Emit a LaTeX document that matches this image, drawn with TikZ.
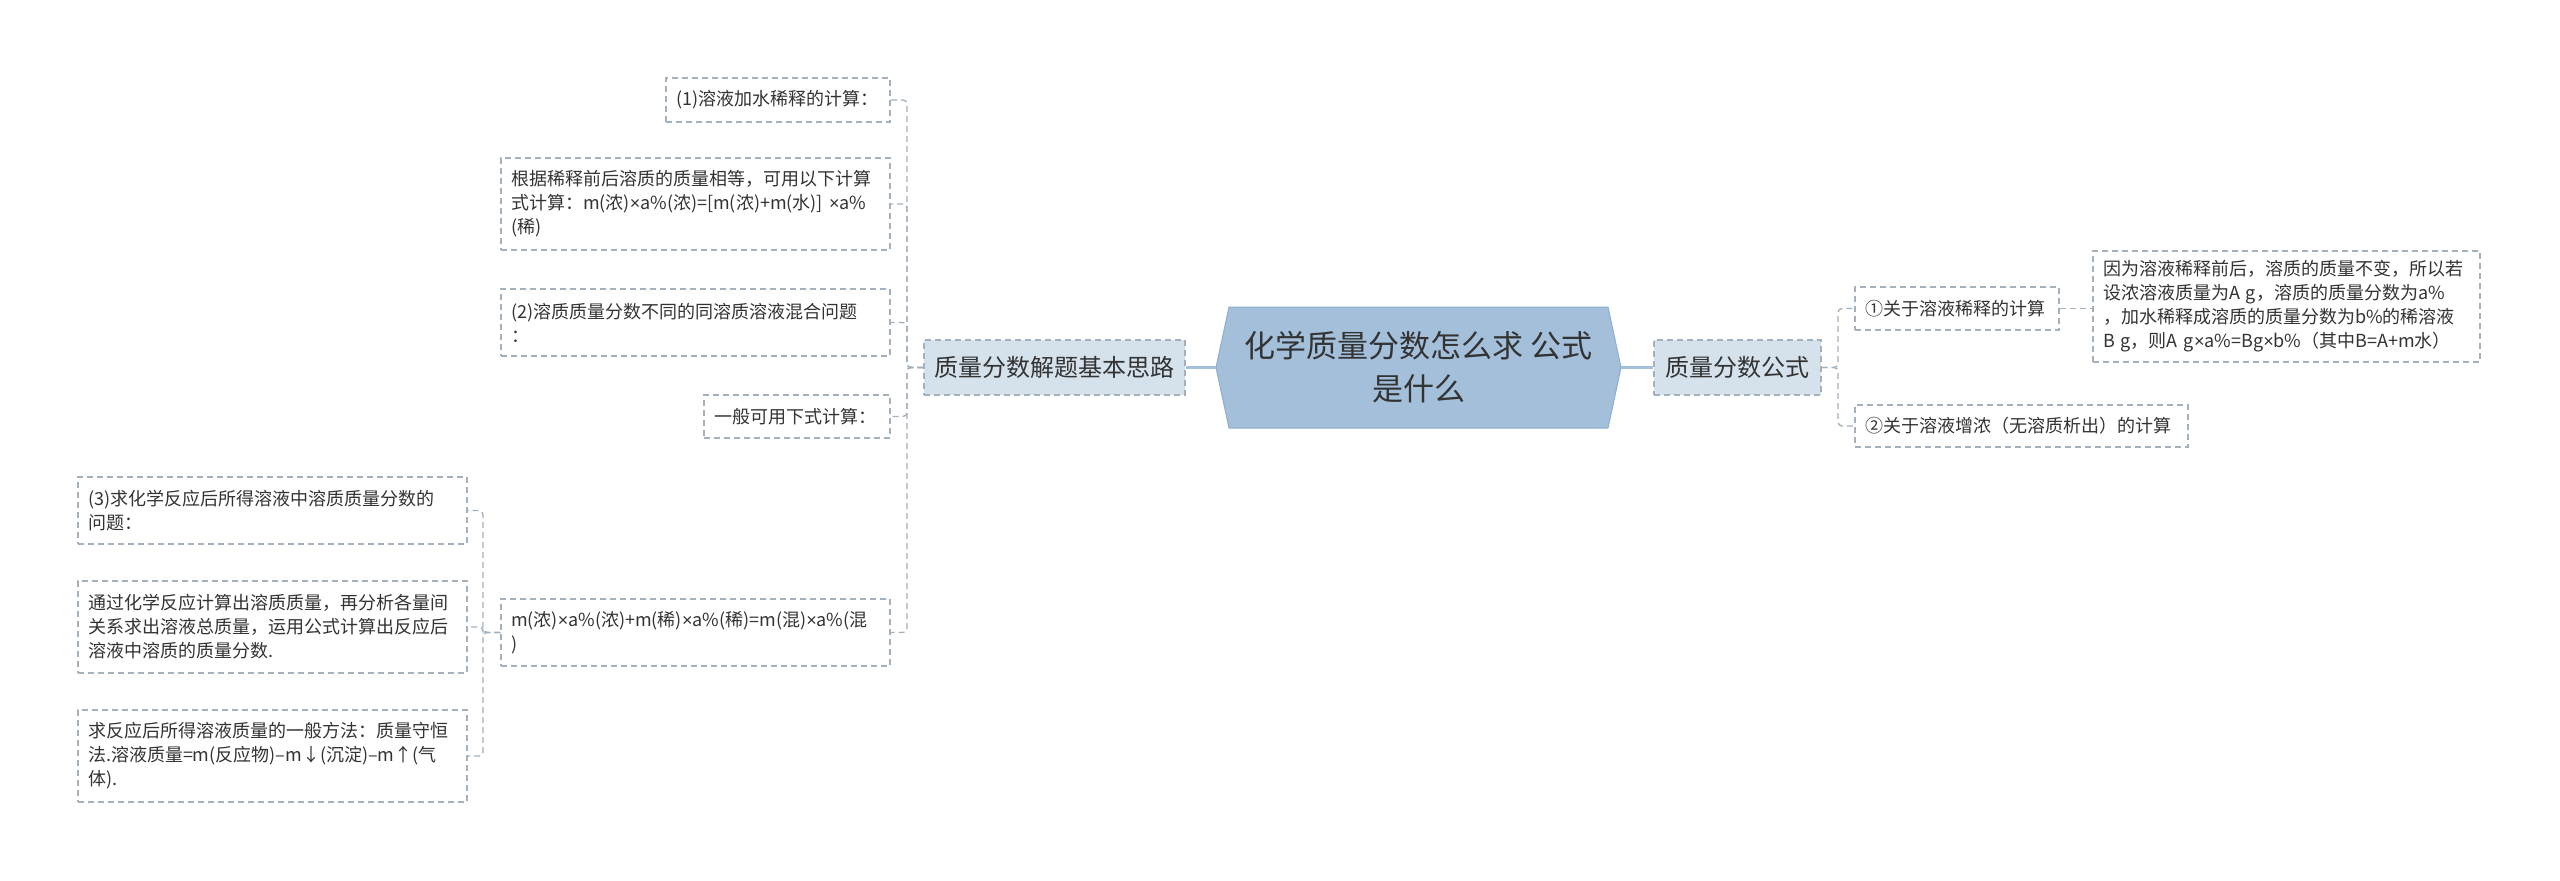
\documentclass[tikz,border=0pt]{standalone}
\usepackage{fontspec}
\newfontfamily\cjk{Noto Sans CJK SC}
\newfontfamily\latinf{Liberation Sans}
\newcommand\mytimes{{\latinf ×}}
\definecolor{txt}{HTML}{333333}
\definecolor{dashc}{HTML}{A3B1BF}
\definecolor{mainfill}{HTML}{A3BFDA}
\definecolor{mainedge}{HTML}{8FAECD}
\definecolor{brfill}{HTML}{D5E1EB}
\definecolor{linec}{HTML}{A3BFDA}
\tikzset{
  leaf/.style={draw=dashc, dash pattern=on 6pt off 4pt, line width=1.4pt, fill=white,
    inner xsep=10pt, inner ysep=4pt, align=left, text=txt,
    font=\cjk\fontsize{18}{24}\selectfont},
  branch/.style={draw=dashc, dash pattern=on 6pt off 4pt, line width=1.4pt, fill=brfill,
    inner xsep=8pt, align=center, text=txt, font=\cjk\fontsize{24}{30}\selectfont},
  conn/.style={draw=dashc, dash pattern=on 6pt off 4pt, line width=1.4pt, rounded corners=4pt},
  mainconn/.style={draw=linec, line width=3pt},
}
\begin{document}
\begin{tikzpicture}[x=1pt,y=-1pt]
\useasboundingbox (0,0) rectangle (2560,881);
\fill[white] (0,0) rectangle (2560,881);
% central topic
\filldraw[fill=mainfill, draw=mainedge, line width=1pt]
  (1216,367.5) -- (1229,307) -- (1608,307) -- (1621,367.5) -- (1608,428) -- (1229,428) -- cycle;
\node[minimum width=405pt, minimum height=121pt, inner sep=0pt, align=center, text=txt,
  font=\cjk\fontsize{31}{43}\selectfont] (C) at (1418.5,367.5) {化学质量分数怎么求 公式\\是什么};
% main branches
\node[branch, minimum width=261pt, minimum height=55pt] (L) at (1054.5,367.5) {质量分数解题基本思路};
\node[branch, minimum width=167pt, minimum height=55pt] (R) at (1737.5,367.5) {质量分数公式};
% left leaves
\node[leaf, text width=204pt, minimum height=44pt] (n1) at (778,100) {(1)溶液加水稀释的计算：};
\node[leaf, text width=369pt, minimum height=92pt] (n2) at (695.5,204) {根据稀释前后溶质的质量相等，可用以下计算\\式计算：m(浓)\mytimes a\%(浓)=[m(浓)+m(水)] \mytimes a\%\\(稀)};
\node[leaf, text width=369pt, minimum height=67pt] (n3) at (695.5,322.5) {(2)溶质质量分数不同的同溶质溶液混合问题\\：};
\node[leaf, text width=166pt, minimum height=43pt] (n4) at (797,416.5) {一般可用下式计算：};
\node[leaf, text width=369pt, minimum height=67pt] (n5) at (695.5,632.5) {m(浓)\mytimes a\%(浓)+m(稀)\mytimes a\%(稀)=m(混)\mytimes a\%(混\\)};
\node[leaf, text width=369pt, minimum height=67pt] (n6) at (272.5,510.5) {(3)求化学反应后所得溶液中溶质质量分数的\\问题：};
\node[leaf, text width=369pt, minimum height=92pt] (n7) at (272.5,627) {通过化学反应计算出溶质质量，再分析各量间\\关系求出溶液总质量，运用公式计算出反应后\\溶液中溶质的质量分数.};
\node[leaf, text width=369pt, minimum height=92pt] (n8) at (272.5,756) {求反应后所得溶液质量的一般方法：质量守恒\\法.溶液质量=m(反应物)–m↓(沉淀)–m↑(气\\体).};
% right leaves
\node[leaf, text width=184pt, minimum height=43pt] (r1) at (1957,308.5) {①关于溶液稀释的计算};
\node[leaf, text width=313pt, minimum height=42pt] (r2) at (2021.5,426) {②关于溶液增浓（无溶质析出）的计算};
\node[leaf, text width=367pt, minimum height=111pt] (r1a) at (2286.5,306.5) {因为溶液稀释前后，溶质的质量不变，所以若\\设浓溶液质量为A g，溶质的质量分数为a\%\\，加水稀释成溶质的质量分数为b\%的稀溶液\\B g，则A g\mytimes a\%=Bg\mytimes b\%（其中B=A+m水）};
% junctions
\coordinate (jL) at (907,367.5);
\coordinate (jR) at (1838,367.5);
\coordinate (j5) at (483,632.5);
% connectors
\draw[mainconn] (C.west) -- (L.east);
\draw[mainconn] (C.east) -- (R.west);
\foreach \n in {n1,n2,n3,n4,n5} {\draw[conn] (L.west) -- (jL) |- (\n.east);}
\foreach \n in {n6,n7,n8} {\draw[conn] (n5.west) -- (j5) |- (\n.east);}
\foreach \n in {r1,r2} {\draw[conn] (R.east) -- (jR) |- (\n.west);}
\draw[conn] (r1.east) -- (r1a.west |- r1.east);
\end{tikzpicture}
\end{document}
